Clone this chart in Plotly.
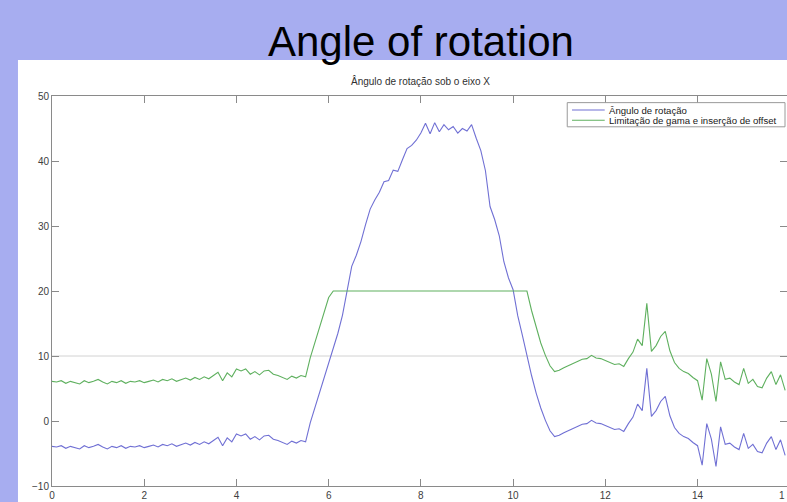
import plotly.graph_objects as go

# ---------------- data ----------------
time_s = [
    0.0, 0.1, 0.2, 0.3, 0.4, 0.5, 0.6, 0.7, 0.8, 0.9,
    1.0, 1.1, 1.2, 1.3, 1.4, 1.5, 1.6, 1.7, 1.8, 1.9,
    2.0, 2.1, 2.2, 2.3, 2.4, 2.5, 2.6, 2.7, 2.8, 2.9,
    3.0, 3.1, 3.2, 3.3, 3.4, 3.5, 3.6, 3.7, 3.8, 3.9,
    4.0, 4.1, 4.2, 4.3, 4.4, 4.5, 4.6, 4.7, 4.8, 4.9,
    5.0, 5.1, 5.2, 5.3, 5.4, 5.5, 5.6, 5.7, 5.8, 5.9,
    6.0, 6.1, 6.2, 6.3, 6.4, 6.5, 6.6, 6.7, 6.8, 6.9,
    7.0, 7.1, 7.2, 7.3, 7.4, 7.5, 7.6, 7.7, 7.8, 7.9,
    8.0, 8.1, 8.2, 8.3, 8.4, 8.5, 8.6, 8.7, 8.8, 8.9,
    9.0, 9.1, 9.2, 9.3, 9.4, 9.5, 9.6, 9.7, 9.8, 9.9,
    10.0, 10.1, 10.2, 10.3, 10.4, 10.5, 10.6, 10.7, 10.8, 10.9,
    11.0, 11.1, 11.2, 11.3, 11.4, 11.5, 11.6, 11.7, 11.8, 11.9,
    12.0, 12.1, 12.2, 12.3, 12.4, 12.5, 12.6, 12.7, 12.8, 12.9,
    13.0, 13.1, 13.2, 13.3, 13.4, 13.5, 13.6, 13.7, 13.8, 13.9,
    14.0, 14.1, 14.2, 14.3, 14.4, 14.5, 14.6, 14.7, 14.8, 14.9,
    15.0, 15.1, 15.2, 15.3, 15.4, 15.5, 15.6, 15.7, 15.8, 15.9,
]

angle = [
    -3.9, -4.0, -3.8, -4.2, -3.9, -4.1, -4.3, -3.8, -4.1, -3.9,
    -3.6, -4.0, -4.3, -3.9, -4.1, -3.8, -4.2, -3.9, -4.0, -3.8,
    -4.1, -3.9, -3.7, -4.0, -3.6, -3.8, -3.5, -3.9, -3.6, -3.4,
    -3.7, -3.3, -3.6, -3.2, -3.5, -3.0, -2.5, -3.8, -2.6, -3.2,
    -2.0, -2.3, -2.0, -2.8, -2.4, -2.9, -2.3, -2.2, -2.8, -3.0,
    -3.3, -3.6, -3.1, -3.4, -3.0, -3.2, -0.3, 2.0, 4.4, 6.8,
    9.0, 11.3, 13.5, 16.3, 20.3, 23.8, 25.5, 27.6, 30.2, 32.6,
    34.0, 35.2, 36.8, 37.0, 38.6, 38.4, 40.2, 41.9, 42.4, 43.2,
    44.3, 45.8, 44.2, 45.9, 44.5, 45.6, 44.8, 45.3, 44.3, 45.0,
    44.6, 45.6, 43.5, 41.6, 38.5, 33.0, 31.0, 28.5, 24.5, 22.0,
    20.2, 16.2, 13.2, 10.0, 7.0, 4.3, 2.0, 0.1, -1.5, -2.4,
    -2.2, -1.8, -1.5, -1.2, -0.9, -0.5, -0.4, 0.1, -0.3, -0.4,
    -0.7, -1.0, -1.3, -1.2, -1.6, -0.4, 0.6, 2.6, 1.6, 8.1,
    0.7, 1.6, 3.0, 3.8, 0.8, -1.0, -1.9, -2.4, -2.7, -3.3,
    -3.8, -6.8, -0.4, -2.8, -7.0, -0.9, -3.6, -3.4, -4.0, -4.4,
    -1.9, -4.2, -3.6, -4.7, -4.9, -3.4, -2.4, -4.4, -2.9, -5.3,
]

limited = [
    6.1, 6.0, 6.2, 5.8, 6.1, 5.9, 5.7, 6.2, 5.9, 6.1,
    6.4, 6.0, 5.7, 6.1, 5.9, 6.2, 5.8, 6.1, 6.0, 6.2,
    5.9, 6.1, 6.3, 6.0, 6.4, 6.2, 6.5, 6.1, 6.4, 6.6,
    6.3, 6.7, 6.4, 6.8, 6.5, 7.0, 7.5, 6.2, 7.4, 6.8,
    8.0, 7.7, 8.0, 7.2, 7.6, 7.1, 7.7, 7.8, 7.2, 7.0,
    6.7, 6.4, 6.9, 6.6, 7.0, 6.8, 9.7, 12.0, 14.4, 16.8,
    19.0, 20.0, 20.0, 20.0, 20.0, 20.0, 20.0, 20.0, 20.0, 20.0,
    20.0, 20.0, 20.0, 20.0, 20.0, 20.0, 20.0, 20.0, 20.0, 20.0,
    20.0, 20.0, 20.0, 20.0, 20.0, 20.0, 20.0, 20.0, 20.0, 20.0,
    20.0, 20.0, 20.0, 20.0, 20.0, 20.0, 20.0, 20.0, 20.0, 20.0,
    20.0, 20.0, 20.0, 20.0, 17.0, 14.3, 12.0, 10.1, 8.5, 7.6,
    7.8, 8.2, 8.5, 8.8, 9.1, 9.5, 9.6, 10.1, 9.7, 9.6,
    9.3, 9.0, 8.7, 8.8, 8.4, 9.6, 10.6, 12.6, 11.6, 18.1,
    10.7, 11.6, 13.0, 13.8, 10.8, 9.0, 8.1, 7.6, 7.3, 6.7,
    6.2, 3.2, 9.6, 7.2, 3.0, 9.1, 6.4, 6.6, 6.0, 5.6,
    8.1, 5.8, 6.4, 5.3, 5.1, 6.6, 7.6, 5.6, 7.1, 4.7,
]

reference_level = 10
x_ticks = [0, 2, 4, 6, 8, 10, 12, 14]
y_ticks = [-10, 0, 10, 20, 30, 40, 50]
series_names = ["Ângulo de rotação", "Limitação de gama e inserção de offset"]
slide_title = "Angle of rotation"
chart_title = "Ângulo de rotação sob o eixo X"
edge_tick_label = "1"   # only the first digit of "16" is visible at the cropped right edge

# ---------------- styling ----------------
FONT = "Liberation Sans, Arial, Helvetica, sans-serif"
BLUE = "#7070d4"
GREEN = "#5fb05f"
AXIS = "#8a8a8a"
TICKTXT = "#404040"
SLIDE_BG = "#a7adf0"

fig = go.Figure()
fig.add_trace(go.Scatter(x=time_s, y=angle, mode="lines", name=series_names[0],
                         line=dict(color=BLUE, width=1.1)))
fig.add_trace(go.Scatter(x=time_s, y=limited, mode="lines", name=series_names[1],
                         line=dict(color=GREEN, width=1.1)))

axis_common = dict(ticks="inside", ticklen=7, tickcolor=AXIS, tickwidth=1,
                   showline=True, linecolor=AXIS, linewidth=1, mirror="ticks",
                   showgrid=False, zeroline=False,
                   tickfont=dict(family=FONT, size=10, color=TICKTXT))

fig.update_layout(
    width=787, height=502,
    margin=dict(l=52, r=0, t=96, b=16),
    paper_bgcolor=SLIDE_BG, plot_bgcolor="white",
    showlegend=False,
    xaxis=dict(range=[0, 15.94], tickvals=x_ticks, **axis_common),
    yaxis=dict(range=[-10, 50], tickvals=y_ticks, **axis_common),
)

# white panel of the slide image
fig.add_shape(type="rect", xref="paper", yref="paper", x0=-0.0463, x1=1.02,
              y0=-0.05, y1=1.0923, fillcolor="white", line=dict(width=0), layer="below")
# reference line at 10
fig.add_shape(type="line", xref="paper", yref="y", x0=0, x1=1,
              y0=reference_level, y1=reference_level,
              line=dict(color="#d2d2d2", width=1), layer="below")

# legend box (drawn manually to match the compact MATLAB legend)
fig.add_shape(type="rect", xref="paper", yref="paper", x0=0.701, x1=0.9973,
              y0=0.921, y1=0.983, fillcolor="white",
              line=dict(color="#9a9a9a", width=1), layer="above")
legend_rows = [0.964, 0.938]
for name, color, yy in zip(series_names, [BLUE, GREEN], legend_rows):
    fig.add_shape(type="line", xref="paper", yref="paper", x0=0.7075, x1=0.752,
                  y0=yy, y1=yy, line=dict(color=color, width=1.1), layer="above")
    fig.add_annotation(text=name, xref="paper", yref="paper", x=0.7555, y=yy,
                       xanchor="left", yanchor="middle", showarrow=False,
                       font=dict(family=FONT, size=9.6, color="#202020"))

# titles
fig.add_annotation(text=chart_title, xref="paper", yref="paper", x=0.5007, y=1.0385,
                   xanchor="center", yanchor="middle", showarrow=False,
                   font=dict(family=FONT, size=10, color="#303030"))
fig.add_annotation(text=slide_title, xref="paper", yref="paper", x=0.502, y=1.141,
                   xanchor="center", yanchor="middle", showarrow=False,
                   font=dict(family=FONT, size=42, color="black"))
fig.add_annotation(text=edge_tick_label, xref="paper", yref="paper", x=1.0, y=-0.0256,
                   xanchor="right", yanchor="middle", showarrow=False,
                   font=dict(family=FONT, size=10, color=TICKTXT))

fig.write_html("out.html")
